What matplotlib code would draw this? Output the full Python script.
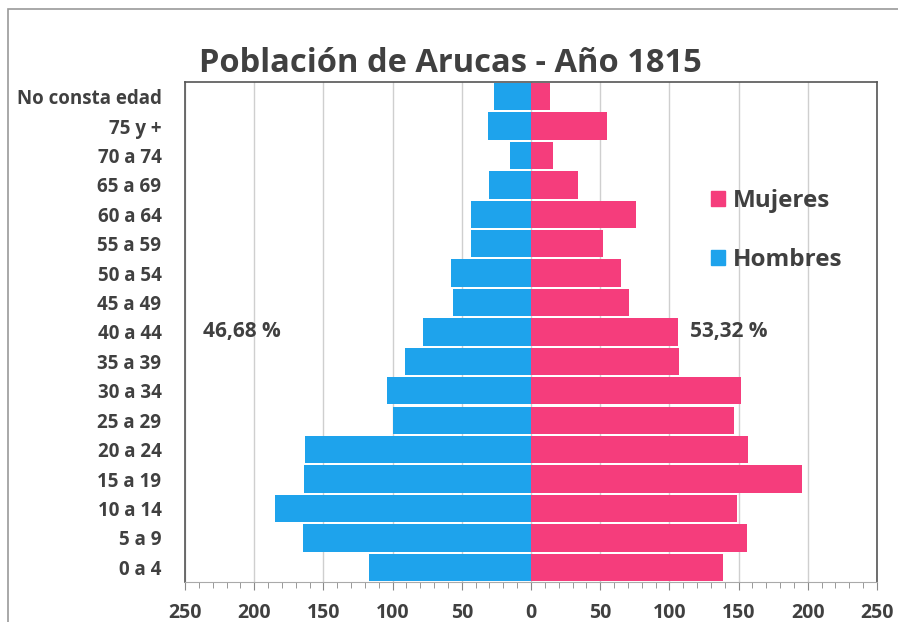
import matplotlib.pyplot as plt
import matplotlib.patches as mpatches
import numpy as np

# grupos de edad, de abajo a arriba
grupos = ['0 a 4', '5 a 9', '10 a 14', '15 a 19', '20 a 24', '25 a 29',
          '30 a 34', '35 a 39', '40 a 44', '45 a 49', '50 a 54', '55 a 59',
          '60 a 64', '65 a 69', '70 a 74', '75 y +', 'No consta edad']
hombres = [117, 165, 185, 164, 163, 100, 104, 91, 78, 56, 58, 43, 43, 30, 15, 31, 27]
mujeres = [139, 156, 149, 196, 157, 147, 152, 107, 106, 71, 65, 52, 76, 34, 16, 55, 14]
pct_hombres = '46,68 %'
pct_mujeres = '53,32 %'
ticks = [-250, -200, -150, -100, -50, 0, 50, 100, 150, 200, 250]

azul = '#1ea3ec'
rosa = '#f53d7c'
gris = '#404040'

plt.rcParams['font.family'] = ['Open Sans', 'DejaVu Sans']
plt.rcParams['font.weight'] = 'bold'

fig = plt.figure(figsize=(8.98, 6.22), dpi=100)
ax = fig.add_axes([0.206, 0.0643, 0.7706, 0.8039])

# marco exterior (solo arriba e izquierda visibles)
fig.add_artist(mpatches.Rectangle((8/898, -0.1), 2, 1 - 9/622 + 0.1,
                                  transform=fig.transFigure, fill=False,
                                  edgecolor='#9a9a9a', lw=1.2))

y = np.arange(len(grupos))
ax.barh(y, -np.array(hombres), height=0.93, color=azul, zorder=2)
ax.barh(y, mujeres, height=0.93, color=rosa, zorder=2)

ax.set_xlim(-250, 250)
ax.set_ylim(-0.5, len(grupos) - 0.5)
ax.set_xticks(ticks)
ax.set_xticklabels([str(abs(t)) for t in ticks])
ax.set_xticks(np.arange(-250, 251, 10), minor=True)
ax.set_yticks(y)
ax.set_yticklabels(grupos)
ax.tick_params(axis='y', length=0, pad=17, labelsize=13.5, labelcolor=gris)
ax.tick_params(axis='x', which='major', length=6, color='#888888', pad=9,
               labelsize=14, labelcolor=gris)
ax.tick_params(axis='x', which='minor', length=4, color='#888888')
ax.grid(axis='x', color='#cfcfcf', lw=1, zorder=0)
for s in ['left', 'right', 'top']:
    ax.spines[s].set_color('#555555')
    ax.spines[s].set_linewidth(1.2)
ax.spines['bottom'].set_color('#aaaaaa')

ax.text(-237, 8, pct_hombres, fontsize=15, color=gris, va='center', ha='left')
ax.text(115, 8, pct_mujeres, fontsize=15, color=gris, va='center', ha='left')

handles = [mpatches.Patch(color=rosa, label='Mujeres'),
           mpatches.Patch(color=azul, label='Hombres')]
leg = ax.legend(handles=handles, loc='upper left', bbox_to_anchor=(0.729, 0.83),
                frameon=False, fontsize=17.5, handlelength=0.55, handleheight=0.55,
                handletextpad=0.35, labelspacing=1.45)
for t in leg.get_texts():
    t.set_color(gris)

fig.text(0.502, 0.898, 'Población de Arucas - Año 1815', ha='center', va='center',
         fontsize=23.5, color=gris)

fig.savefig('out.png', dpi=100)
